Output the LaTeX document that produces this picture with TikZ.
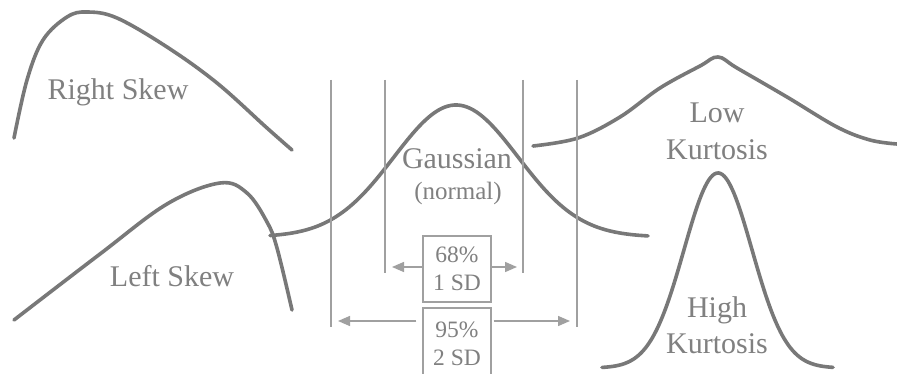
\documentclass[tikz,border=0pt]{standalone}
\usepackage{fontspec}
\setmainfont{Liberation Serif}
\usetikzlibrary{arrows.meta}
\definecolor{curvec}{HTML}{787878}
\definecolor{textc}{HTML}{808080}
\definecolor{linec}{HTML}{A0A0A0}
\begin{document}
\begin{tikzpicture}[x=1pt,y=-1pt,
  curve/.style={draw=curvec,line width=3.6pt,line cap=round,line join=round},
  guide/.style={draw=linec,line width=1.1pt},
  bigtext/.style={text=textc,font=\fontsize{30}{32}\selectfont,anchor=base,inner sep=0pt},
  midtext/.style={text=textc,font=\fontsize{25}{27}\selectfont,anchor=base,inner sep=0pt},
  sdbox/.style={draw=linec,line width=1.1pt,minimum width=68pt,inner sep=0pt,text=textc,
    font=\fontsize{23.5}{28}\selectfont,align=center},
  sdarrow/.style={draw=linec,line width=1.4pt,-{Triangle[length=12pt,width=10pt]}}]
\useasboundingbox (0,0) rectangle (897,374);
\clip (0,0) rectangle (897,374);
\fill[white] (0,0) rectangle (897,374);

% right skew
\draw[curve] plot[smooth,tension=0.6] coordinates {(14,138) (27,80) (43,40) (67,17) (87,12) (117,18) (167,47) (217,83) (267,128) (292,150)};
% left skew
\draw[curve] plot[smooth,tension=0.6] coordinates {(14,320) (100,254) (167,204) (220,183) (247,193) (267,222) (277,248) (292,310)};
% gaussian
\draw[curve] plot[domain=270:648,samples=120] ({\x},{237-132*exp(-((\x-456)/62)^2/2)});
% low kurtosis
\draw[curve] plot[smooth,tension=0.6] coordinates {(533,146) (578,138) (620,117) (660,88) (700,66) (718,57) (737,68) (787,97) (837,127) (870,140) (897,144)};
% high kurtosis
\draw[curve] plot[domain=602:833,samples=120] ({\x},{368-195*exp(-((\x-718)/34)^2/2)});

% guide lines
\draw[guide] (331,80) -- (331,327);
\draw[guide] (385,80) -- (385,273);
\draw[guide] (523,80) -- (523,273);
\draw[guide] (577,80) -- (577,327);

% labels
\node[bigtext] (rs) at (118,100) {Right Skew};
\node[bigtext] (ls) at (172,286) {Left Skew};
\node[bigtext] (ga) at (457,169) {Gaussian};
\node[midtext] (no) at (458,200) {(normal)};
\node[bigtext] (lk1) at (717,123) {Low};
\node[bigtext] (lk2) at (717,160) {Kurtosis};
\node[bigtext] (hk1) at (717,317) {High};
\node[bigtext] (hk2) at (717,353) {Kurtosis};

% SD boxes
\node[sdbox,minimum height=66pt] (b1) at (457,269) {68\%\\1 SD};
\node[sdbox,minimum height=72pt] (b2) at (457,344) {95\%\\2 SD};

\coordinate (l1) at (392,267);
\coordinate (r1) at (517,267);
\coordinate (l2) at (338,321);
\coordinate (r2) at (570,321);
\draw[sdarrow] (b1.west |- l1) -- (l1);
\draw[sdarrow] (b1.east |- r1) -- (r1);
\draw[sdarrow] ([xshift=-6pt]b2.west |- l2) -- (l2);
\draw[sdarrow] ([xshift=2pt]b2.east |- r2) -- (r2);
\end{tikzpicture}
\end{document}
